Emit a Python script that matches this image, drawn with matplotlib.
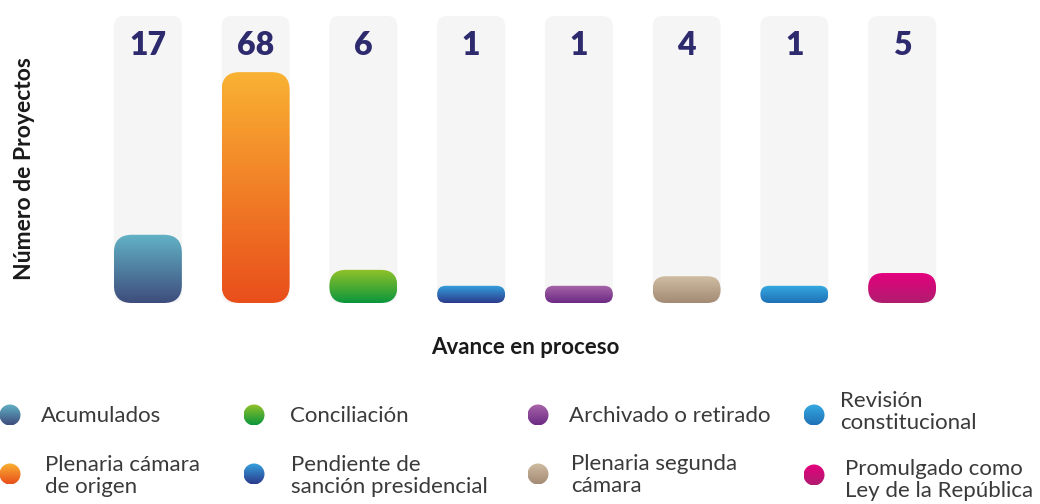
import matplotlib.pyplot as plt
import matplotlib.patches as mpatches
from matplotlib.colors import LinearSegmentedColormap
import numpy as np

plt.rcParams['font.family'] = ['Lato', 'DejaVu Sans']

# Data
etapas = ['Acumulados', 'Plenaria cámara\nde origen', 'Conciliación',
          'Pendiente de\nsanción presidencial', 'Archivado o retirado',
          'Plenaria segunda\ncámara', 'Revisión\nconstitucional',
          'Promulgado como\nLey de la República']
proyectos = [17, 68, 6, 1, 1, 4, 1, 5]

# Gradient colours (top, bottom)
color_top = ['#62b3c6', '#f9b233', '#93c229', '#36a3df', '#a866a9', '#cfbda2', '#36aae2', '#e5007e']
color_bottom = ['#3e4c7c', '#e94e1b', '#0a963c', '#2b3a8c', '#6c2a84', '#a38a74', '#1f71b6', '#af1d6f']

navy = '#2e2a6e'

fig = plt.figure(figsize=(10.4, 5.04), dpi=100)
W, H = 1040, 504

# main bar axes (pixel placement)
base = 4.4
top = 85.6
ax = fig.add_axes([94 / W, 201 / H, 862 / W, 287 / H])
ax.set_xlim(-0.5, 7.5)
ax.set_ylim(-base, top)
ax.axis('off')

px_x = 862 / 8
px_y = 287 / (top + base)
asp = px_x / px_y
bar_w = 68 / px_x

grad = np.linspace(0, 1, 256).reshape(-1, 1)

for i, v in enumerate(proyectos):
    x0 = i - bar_w / 2
    # background track
    bg = mpatches.FancyBboxPatch((x0, -base), bar_w, top + base,
                                 boxstyle=mpatches.BoxStyle('Round', pad=0, rounding_size=10 / px_x),
                                 mutation_aspect=asp, fc='#f5f5f5', ec='none', zorder=1)
    ax.add_patch(bg)

    h = v + base
    h_px = h * px_y
    r_px = min(18, h_px / 2)
    bar = mpatches.FancyBboxPatch((x0, -base), bar_w, h,
                                  boxstyle=mpatches.BoxStyle('Round', pad=0, rounding_size=r_px / px_x),
                                  mutation_aspect=asp, fc='none', ec='none', zorder=2)
    ax.add_patch(bar)
    cmap = LinearSegmentedColormap.from_list('g%d' % i, [color_bottom[i], color_top[i]])
    im = ax.imshow(grad, extent=[x0, x0 + bar_w, -base, v], origin='lower',
                   cmap=cmap, aspect='auto', zorder=3)
    im.set_clip_path(bar)

    ax.text(i, 76.3, str(v), ha='center', va='center', fontsize=23,
            fontweight='heavy', color=navy, zorder=4)

ax.set_xlim(-0.5, 7.5)
ax.set_ylim(-base, top)

# overlay for labels and legend
lax = fig.add_axes([0, 0, 1, 1])
lax.set_xlim(0, W)
lax.set_ylim(H, 0)
lax.axis('off')

lax.text(25, 169, 'Número de Proyectos', rotation=90, ha='center', va='center',
         fontsize=16.5, fontweight='bold', color='#1a1a1a')
lax.text(525, 347, 'Avance en proceso', ha='center', va='center',
         fontsize=16, fontweight='bold', color='#1a1a1a')

circle_x = [10, 10, 254, 254, 538, 538, 814, 814]
circle_y = [415, 474, 415, 474, 415, 474, 415, 475]
text_x = [41, 45, 290, 291, 569, 571, 840, 845]
text_y = [416, 476, 416, 476, 416, 475, 412, 480]
rad = 10.5

for i, lab in enumerate(etapas):
    cx, cy = circle_x[i], circle_y[i]
    circ = mpatches.Circle((cx, cy), rad, fc='none', ec='none')
    lax.add_patch(circ)
    cmap = LinearSegmentedColormap.from_list('l%d' % i, [color_top[i], color_bottom[i]])
    im = lax.imshow(grad, extent=[cx - rad, cx + rad, cy + rad, cy - rad], origin='upper',
                    cmap=cmap, aspect='auto')
    im.set_clip_path(circ)
    lax.text(text_x[i], text_y[i], lab, ha='left', va='center', fontsize=16,
             fontweight='normal', color='#3a3a3a', linespacing=1.15)

lax.set_xlim(0, W)
lax.set_ylim(H, 0)

fig.savefig('out.png', dpi=100)
